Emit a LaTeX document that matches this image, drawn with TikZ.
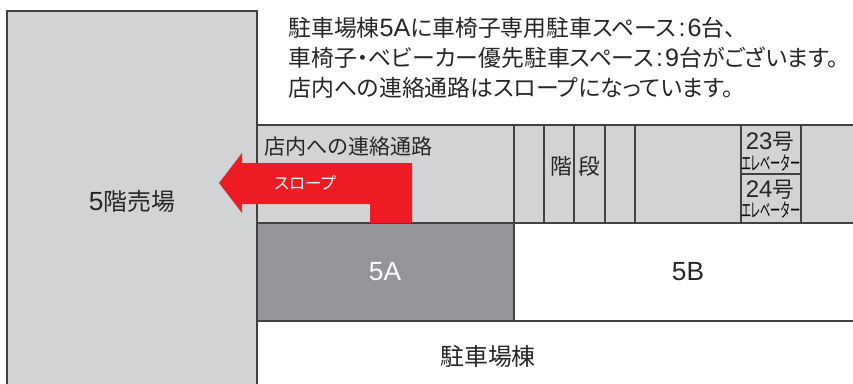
\documentclass[tikz,border=0pt]{standalone}
\usepackage{fontspec}
\usepackage{graphicx}
\setmainfont[Scale=1.1]{Liberation Sans}
\newfontfamily\jp[RawFeature=+palt]{Noto Sans CJK JP}
\definecolor{roomgray}{HTML}{D1D3D4}
\definecolor{parkgray}{HTML}{939598}
\definecolor{linegray}{HTML}{414042}
\definecolor{rampred}{HTML}{ED1C24}
\tikzstyle{room} = [draw=linegray, fill=roomgray, line width=0.75pt]
\tikzstyle{wall} = [draw=linegray, line width=0.75pt]
\tikzstyle{ramp} = [fill=rampred]
\tikzstyle{note} = [anchor=west, inner sep=0pt, text=black!85, font=\fontsize{13}{15}\selectfont]
\tikzstyle{label} = [inner sep=0pt, text=black!85, font=\fontsize{13.6}{15}\selectfont]
\tikzstyle{small} = [inner sep=0pt, text=black!85, font=\fontsize{12.4}{15}\selectfont]
\newcommand{\evlabel}{\scalebox{0.53}[1]{\fontsize{11}{11}\selectfont\jp エレベーター}}
\newcommand{\colonkern}{\hspace{1.2pt}:\hspace{1.2pt}}

\begin{document}
\begin{tikzpicture}[x=0.02cm, y=-0.02cm]
  \useasboundingbox (0,0) rectangle (853,383);

  % 売場
  \draw[room] (7,11) rectangle (257,390);
  \node[label] (floor) at (132,201) {5{\jp 階売場}};

  % 連絡通路と階段
  \draw[room] (257,125) rectangle (860,223);
  \foreach \xpos in {514,544,574,605,635,741,801}
    \draw[wall] (\xpos,125) -- (\xpos,223);
  \draw[wall] (741,174) -- (801,174);

  % 駐車スペース
  \draw[wall, fill=parkgray] (257,223) rectangle (514,321);
  \draw[wall] (514,321) -- (860,321);

  % スロープ
  \path[ramp] (219,183) -- (242,153) -- (242,163) -- (412,163) -- (412,223)
    -- (370,223) -- (370,204) -- (242,204) -- (242,213) -- cycle;

  % 説明文
  \node[note] (line1) at (288,28) {{\jp 駐車場棟}5A{\jp に車椅子専用駐車スペース}\colonkern 6{\jp 台、}};
  \node[note] (line2) at (288,58) {{\jp 車椅子・ベビーカー優先駐車スペース}\colonkern 9{\jp 台がございます。}};
  \node[note] (line3) at (288,88) {{\jp 店内への連絡通路はスロープになっています。}};

  % 各部の名前
  \node[inner sep=0pt, anchor=west, text=black!85, font=\fontsize{12}{14}\selectfont\jp] (passage) at (264,146) {店内への連絡通路};
  \node[inner sep=0pt, text=white, font=\fontsize{9.4}{10}\selectfont\jp] (slope) at (305,183) {スロープ};
  \node[small] (stairA) at (561,166) {\jp 階};
  \node[small] (stairB) at (589,166) {\jp 段};
  \node[small] (ev23) at (770,142) {23{\jp 号}};
  \node[inner sep=0pt] (ev23b) at (771,163) {\evlabel};
  \node[small] (ev24) at (770,190) {24{\jp 号}};
  \node[inner sep=0pt] (ev24b) at (771,210) {\evlabel};
  \node[label, text=white] (A5) at (385,272) {5A};
  \node[label] (B5) at (688,272) {5B};
  \node[label] (building) at (488,356) {\jp 駐車場棟};
\end{tikzpicture}
\end{document}
